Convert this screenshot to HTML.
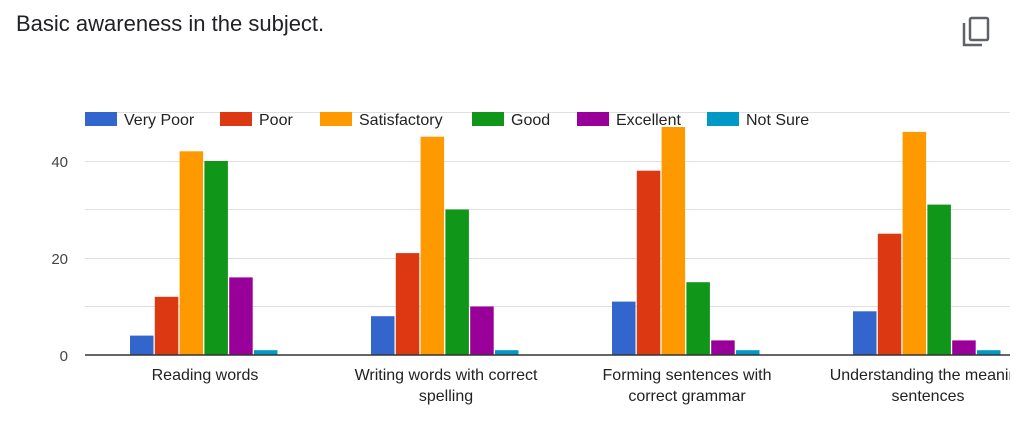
<!DOCTYPE html>
<html><head><meta charset="utf-8"><style>
body{margin:0;background:#fff;width:1024px;height:428px;overflow:hidden;font-family:"Liberation Sans",Arial,sans-serif}
</style></head><body>
<svg width="1024" height="428" xmlns="http://www.w3.org/2000/svg" font-family="Liberation Sans, Arial, sans-serif">
<text x="16" y="31" font-size="22" fill="#202124">Basic awareness in the subject.</text>
<g fill="none" stroke="#5f6368" stroke-width="2.5">
<rect x="970" y="18" width="18" height="22" rx="1.5"/>
<path d="M964 23 v22 h18"/>
</g>
<g stroke="#e0e0e0" stroke-width="1">
<line x1="85" x2="1010" y1="112.5" y2="112.5"/>
<line x1="85" x2="1010" y1="161.5" y2="161.5"/>
<line x1="85" x2="1010" y1="209.5" y2="209.5"/>
<line x1="85" x2="1010" y1="258.5" y2="258.5"/>
<line x1="85" x2="1010" y1="306.5" y2="306.5"/>
</g>
<g font-size="15" fill="#444" text-anchor="end">
<text x="68" y="167">40</text><text x="68" y="264">20</text><text x="68" y="361">0</text>
</g>
<g font-size="16" fill="#222">
<rect x="85" y="112" width="32" height="14" fill="#3366cc"/><text x="124" y="125">Very Poor</text>
<rect x="220" y="112" width="32" height="14" fill="#dc3912"/><text x="259" y="125">Poor</text>
<rect x="320" y="112" width="32" height="14" fill="#ff9900"/><text x="359" y="125">Satisfactory</text>
<rect x="472" y="112" width="32" height="14" fill="#109618"/><text x="511" y="125">Good</text>
<rect x="577" y="112" width="32" height="14" fill="#990099"/><text x="616" y="125">Excellent</text>
<rect x="707" y="112" width="32" height="14" fill="#0099c6"/><text x="746" y="125">Not Sure</text>
</g>
<g>
<rect x="130" y="335.6" width="23.5" height="19.4" fill="#3366cc"/>
<rect x="154.8" y="296.8" width="23.5" height="58.2" fill="#dc3912"/>
<rect x="179.6" y="151.3" width="23.5" height="203.7" fill="#ff9900"/>
<rect x="204.4" y="161" width="23.5" height="194" fill="#109618"/>
<rect x="229.2" y="277.4" width="23.5" height="77.6" fill="#990099"/>
<rect x="254" y="350.2" width="23.5" height="4.8" fill="#0099c6"/>

<rect x="371" y="316.2" width="23.5" height="38.8" fill="#3366cc"/>
<rect x="395.8" y="253.1" width="23.5" height="101.9" fill="#dc3912"/>
<rect x="420.6" y="136.7" width="23.5" height="218.3" fill="#ff9900"/>
<rect x="445.4" y="209.5" width="23.5" height="145.5" fill="#109618"/>
<rect x="470.2" y="306.5" width="23.5" height="48.5" fill="#990099"/>
<rect x="495" y="350.2" width="23.5" height="4.8" fill="#0099c6"/>

<rect x="612" y="301.6" width="23.5" height="53.4" fill="#3366cc"/>
<rect x="636.8" y="170.7" width="23.5" height="184.3" fill="#dc3912"/>
<rect x="661.6" y="127" width="23.5" height="228" fill="#ff9900"/>
<rect x="686.4" y="282.2" width="23.5" height="72.8" fill="#109618"/>
<rect x="711.2" y="340.4" width="23.5" height="14.6" fill="#990099"/>
<rect x="736" y="350.2" width="23.5" height="4.8" fill="#0099c6"/>

<rect x="853" y="311.3" width="23.5" height="43.7" fill="#3366cc"/>
<rect x="877.8" y="233.7" width="23.5" height="121.3" fill="#dc3912"/>
<rect x="902.6" y="131.9" width="23.5" height="223.1" fill="#ff9900"/>
<rect x="927.4" y="204.6" width="23.5" height="150.4" fill="#109618"/>
<rect x="952.2" y="340.4" width="23.5" height="14.6" fill="#990099"/>
<rect x="977" y="350.2" width="23.5" height="4.8" fill="#0099c6"/>
</g>
<line x1="85" x2="1010" y1="355" y2="355" stroke="#333" stroke-width="1.5"/>
<g font-size="16" fill="#222" text-anchor="middle">
<text x="205" y="380">Reading words</text>
<text x="446" y="380">Writing words with correct</text><text x="446" y="401">spelling</text>
<text x="687" y="380">Forming sentences with</text><text x="687" y="401">correct grammar</text>
<text x="928" y="380">Understanding the meaning</text><text x="928" y="401">sentences</text>
</g>
<rect x="1010" y="360" width="14" height="50" fill="#fff"/>
</svg>
</body></html>
